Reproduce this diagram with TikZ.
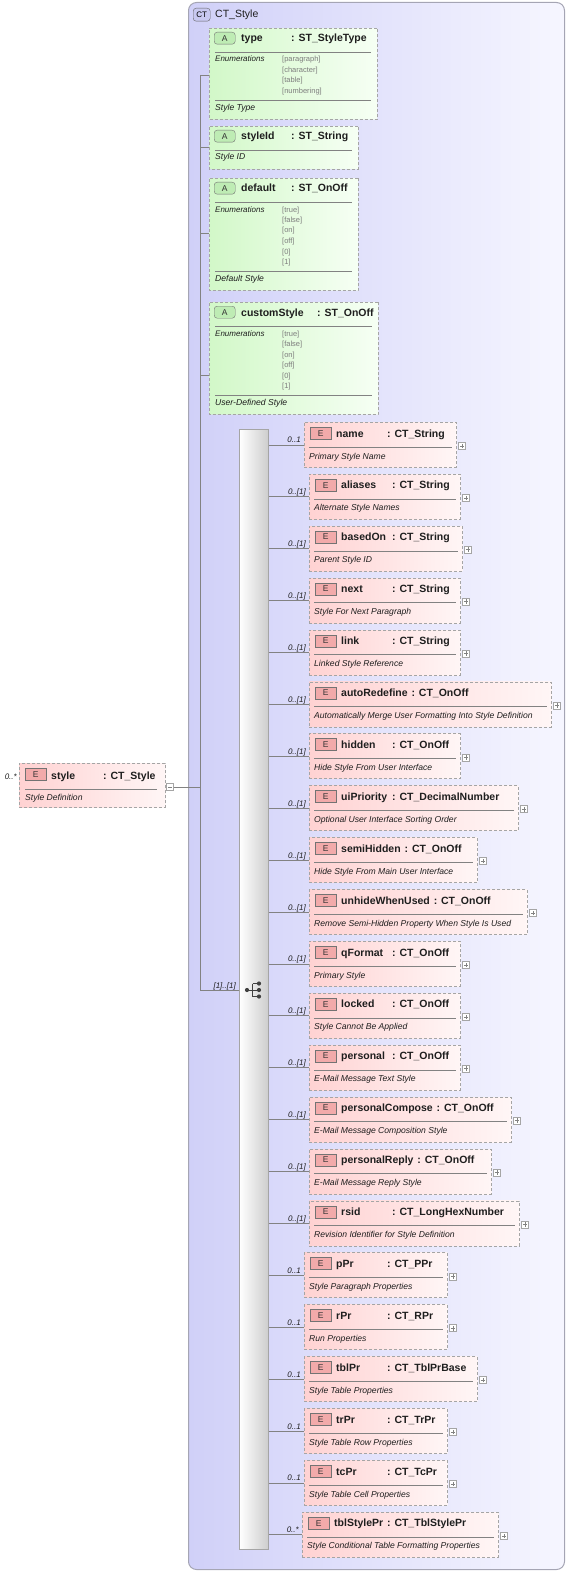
\documentclass[tikz,border=0pt]{standalone}
\usepackage{fontspec}
\setmainfont{Liberation Sans}
\usetikzlibrary{calc,shapes.misc}
\definecolor{ctL}{RGB}{208,208,248}
\definecolor{ctR}{RGB}{246,246,255}
\definecolor{ctB}{RGB}{165,165,180}
\definecolor{bdr}{RGB}{165,165,165}
\definecolor{grnL}{RGB}{210,248,200}
\definecolor{grnR}{RGB}{246,255,244}
\definecolor{pnkL}{RGB}{255,210,210}
\definecolor{pnkR}{RGB}{255,246,246}
\definecolor{ebad}{RGB}{242,170,170}
\definecolor{abad}{RGB}{190,236,180}
\definecolor{ctbad}{RGB}{200,200,240}
\definecolor{lnc}{RGB}{130,130,130}
\definecolor{enumc}{RGB}{125,125,125}
\definecolor{txt}{RGB}{30,30,30}
\tikzset{
  conn/.style={draw=lnc, line width=0.8pt},
  sepl/.style={draw=lnc, line width=0.6pt},
  ctbox/.style={draw=ctB, line width=1pt, rounded corners=8pt, left color=ctL, right color=ctR, inner sep=0pt},
  ctbadge/.style={draw=black!60, fill=ctbad, rounded corners=3pt, minimum width=17pt, minimum height=13pt, inner sep=0pt, font=\fontsize{8}{9}\selectfont},
  elembox/.style={draw=bdr, dash pattern=on 3pt off 2pt, line width=0.8pt, left color=pnkL, right color=pnkR, minimum height=45pt, inner sep=0pt},
  attrbox/.style={chamfered rectangle, chamfered rectangle sep=3pt, draw=bdr, dash pattern=on 3pt off 2pt, line width=0.8pt, left color=grnL, right color=grnR, inner sep=0pt},
  ebadge/.style={draw=black!55, fill=ebad, minimum width=21pt, minimum height=12pt, inner sep=0pt, font=\fontsize{8.5}{9}\selectfont, text=black!80},
  abadge/.style={draw=black!55, fill=abad, rounded corners=3pt, minimum width=21pt, minimum height=12pt, inner sep=0pt, font=\fontsize{8.5}{9}\selectfont, text=black!80},
  ttl/.style={font=\fontsize{10.5}{12}\selectfont\bfseries, text=txt, inner sep=0pt, anchor=base west},
  dsc/.style={font=\fontsize{8.6}{10}\selectfont\itshape, text=txt, inner sep=0pt, anchor=base west},
  enl/.style={font=\fontsize{8}{9}\selectfont\itshape, text=txt, inner sep=0pt, anchor=base west},
  env/.style={font=\fontsize{7.5}{9}\selectfont, text=enumc, inner sep=0pt, anchor=base west},
  lbl/.style={font=\fontsize{8}{9}\selectfont\itshape, text=txt, inner sep=0pt, anchor=base east},
  plusb/.style={draw=bdr, fill=white, minimum size=7pt, inner sep=0pt, line width=0.6pt},
  seqbar/.style={draw=bdr, line width=0.8pt, left color=white, right color={rgb,255:red,205;green,205;blue,205}, inner sep=0pt},
}
\newcommand{\elm}[8]{%
  \pgfmathsetmacro{\elmy}{422+51.9*(#2-1)}%
  \node[elembox, minimum width={#4-#3}, anchor=north west] (#1) at (#3,\elmy) {};
  \node[ebadge, anchor=north west] (#1-e) at (#3+6,\elmy+5) {E};
  \node[ttl] (#1-n) at (#3+32,\elmy+15) {#5};
  \path let \p1=(#1-n.base east) in node[ttl] (#1-t) at ({max(\x1+3.5,#3+83)},\elmy+15) {: #6};
  \draw[sepl] ([xshift=5pt,yshift=-25pt]#1.north west) -- ([xshift=-5pt,yshift=-25pt]#1.north east);
  \node[dsc] (#1-d) at (#3+5,\elmy+37) {#7};
  \node[plusb, anchor=west] (#1-p) at ([xshift=1.5pt,yshift=-1pt]#1.east) {};
  \draw[lnc, line width=0.5pt] ([xshift=1.5pt]#1-p.west) -- ([xshift=-1.5pt]#1-p.east);
  \draw[lnc, line width=0.5pt] ([yshift=1.5pt]#1-p.south) -- ([yshift=-1.5pt]#1-p.north);
  \draw[conn] (seq.east |- #1.west) -- (#1.west);
  \node[lbl] (#1-l) at ([xshift=-3pt,yshift=2pt]#1.west) {#8};
}
\newcommand{\attrhead}[7]{%
  \node[attrbox, minimum width={#3-209}, minimum height={#4}, anchor=north west] (#1) at (209,#2) {};
  \node[abadge, anchor=north west] (#1-a) at (214,#2+4) {A};
  \node[ttl] (#1-n) at (241,#2+14) {#5};
  \node[ttl] (#1-t) at (#6,#2+14) {: #7};
  \draw[sepl] (215,#2+24) -- (#3-6,#2+24);
}
\newcommand{\attrenum}[3]{%
  \node[enl] (#1-el) at (215,#2+34) {Enumerations};
  \foreach \v [count=\k from 0] in {#3} {\node[env] (#1-v\k) at (282,#2+34+10.5*\k) {[\v]};}
}
\begin{document}
\begin{tikzpicture}[x=1pt,y=-1pt]
\useasboundingbox (0,0) rectangle (568,1573);
% complex type container
\node[ctbox, minimum width=376pt, minimum height=1567pt, anchor=north west] (ct) at (188,2) {};
\node[ctbadge, anchor=north west] (ctb) at (193,8) {CT};
\node[font=\fontsize{10.5}{12}\selectfont, text=txt, anchor=west, inner sep=0pt] (ctn) at (215,14.5) {CT\_Style};

% attributes
\attrhead{a1}{28}{377}{91.5}{type}{291}{ST\_StyleType}
\attrenum{a1}{28}{paragraph,character,table,numbering}
\draw[sepl] (215,100.5) -- (371,100.5);
\node[dsc] (a1-d) at (215,110.5) {Style Type};

\attrhead{a2}{126}{358}{43}{styleId}{291}{ST\_String}
\node[dsc] (a2-d) at (215,160) {Style ID};

\attrhead{a3}{178}{358}{112.5}{default}{291}{ST\_OnOff}
\attrenum{a3}{178}{true,false,on,off,0,1}
\draw[sepl] (215,271.5) -- (352,271.5);
\node[dsc] (a3-d) at (215,281.5) {Default Style};

\attrhead{a4}{302}{378}{112.5}{customStyle}{317}{ST\_OnOff}
\attrenum{a4}{302}{true,false,on,off,0,1}
\draw[sepl] (215,395.5) -- (372,395.5);
\node[dsc] (a4-d) at (215,405.5) {User-Defined Style};

% trunk
\coordinate (trtop) at (200,75);
\coordinate (tr) at (200,990);
\coordinate (j2) at (200,147);
\coordinate (j3) at (200,233);
\coordinate (j4) at (200,375);
\draw[conn] (trtop) -- (tr);
\draw[conn] (trtop) -- (trtop -| a1.west);
\draw[conn] (j2) -- (j2 -| a2.west);
\draw[conn] (j3) -- (j3 -| a3.west);
\draw[conn] (j4) -- (j4 -| a4.west);

% root element
\node[elembox, minimum width=146pt, minimum height=44pt, anchor=north west] (style) at (19,763) {};
\node[ebadge, anchor=north west] (style-e) at (25,768) {E};
\node[ttl] (style-n) at (51,779) {style};
\node[ttl] (style-t) at (103,779) {: CT\_Style};
\draw[sepl] (25,789) -- (157,789);
\node[dsc] (style-d) at (25,800) {Style Definition};
\node[plusb, anchor=west] (style-m) at ([xshift=0.5pt,yshift=-1.5pt]style.east) {};
\draw[lnc, line width=0.5pt] ([xshift=1.5pt]style-m.west) -- ([xshift=-1.5pt]style-m.east);
\node[lbl] (style-l) at (17,779) {0..*};
\draw[conn] (style-m.east) -- (style-m.east -| tr);

% sequence
\node[seqbar, minimum width=29pt, minimum height=1120pt, anchor=north west] (seq) at (239,429) {};
\draw[conn] (tr) -- (seq.west |- tr);
\node[lbl] (seq-l) at ($(seq.west |- tr)+(-3,-2)$) {[1]..[1]};
\coordinate (ic) at (252.5,990);
\fill[black!75] (247,990) circle (2.1pt);
\draw[black!75, line width=0.9pt] (247,990) -- (ic);
\draw[black!75, line width=0.9pt] (252.5,983.5) -- (252.5,996.5);
\foreach \yy in {983.5,990,996.5} {
  \draw[black!75, line width=0.9pt] (252.5,\yy) -- (258,\yy);
  \fill[black!75] (259,\yy) circle (2.1pt);
}

% children
\elm{e1}{1}{304}{456}{name}{CT\_String}{Primary Style Name}{0..1}
\elm{e2}{2}{309}{460}{aliases}{CT\_String}{Alternate Style Names}{0..[1]}
\elm{e3}{3}{309}{462}{basedOn}{CT\_String}{Parent Style ID}{0..[1]}
\elm{e4}{4}{309}{460}{next}{CT\_String}{Style For Next Paragraph}{0..[1]}
\elm{e5}{5}{309}{460}{link}{CT\_String}{Linked Style Reference}{0..[1]}
\elm{e6}{6}{309}{551}{autoRedefine}{CT\_OnOff}{Automatically Merge User Formatting Into Style Definition}{0..[1]}
\elm{e7}{7}{309}{460}{hidden}{CT\_OnOff}{Hide Style From User Interface}{0..[1]}
\elm{e8}{8}{309}{518}{uiPriority}{CT\_DecimalNumber}{Optional User Interface Sorting Order}{0..[1]}
\elm{e9}{9}{309}{477}{semiHidden}{CT\_OnOff}{Hide Style From Main User Interface}{0..[1]}
\elm{e10}{10}{309}{527}{unhideWhenUsed}{CT\_OnOff}{Remove Semi-Hidden Property When Style Is Used}{0..[1]}
\elm{e11}{11}{309}{460}{qFormat}{CT\_OnOff}{Primary Style}{0..[1]}
\elm{e12}{12}{309}{460}{locked}{CT\_OnOff}{Style Cannot Be Applied}{0..[1]}
\elm{e13}{13}{309}{460}{personal}{CT\_OnOff}{E-Mail Message Text Style}{0..[1]}
\elm{e14}{14}{309}{511}{personalCompose}{CT\_OnOff}{E-Mail Message Composition Style}{0..[1]}
\elm{e15}{15}{309}{491}{personalReply}{CT\_OnOff}{E-Mail Message Reply Style}{0..[1]}
\elm{e16}{16}{309}{519}{rsid}{CT\_LongHexNumber}{Revision Identifier for Style Definition}{0..[1]}
\elm{e17}{17}{304}{447}{pPr}{CT\_PPr}{Style Paragraph Properties}{0..1}
\elm{e18}{18}{304}{447}{rPr}{CT\_RPr}{Run Properties}{0..1}
\elm{e19}{19}{304}{477}{tblPr}{CT\_TblPrBase}{Style Table Properties}{0..1}
\elm{e20}{20}{304}{447}{trPr}{CT\_TrPr}{Style Table Row Properties}{0..1}
\elm{e21}{21}{304}{447}{tcPr}{CT\_TcPr}{Style Table Cell Properties}{0..1}
\elm{e22}{22}{302}{498}{tblStylePr}{CT\_TblStylePr}{Style Conditional Table Formatting Properties}{0..*}
\end{tikzpicture}
\end{document}
